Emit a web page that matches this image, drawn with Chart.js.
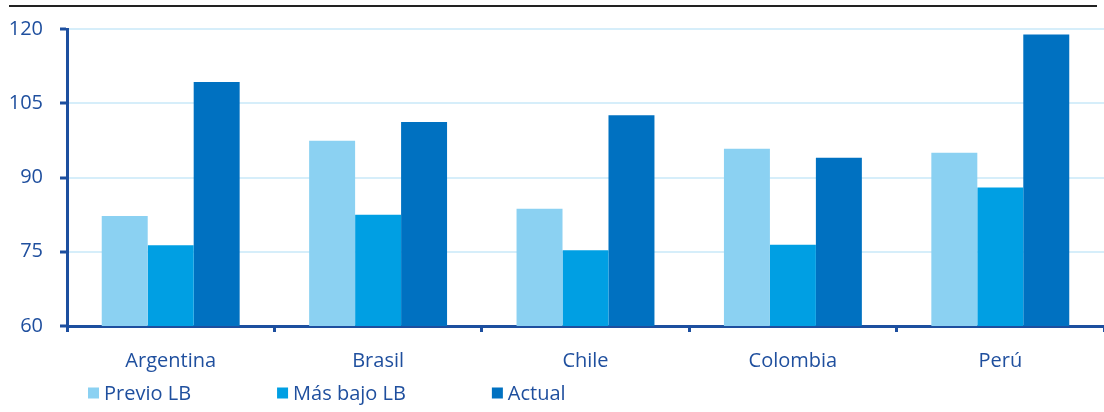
<!DOCTYPE html>
<html>
<head>
<meta charset="utf-8">
<script src="https://cdn.jsdelivr.net/npm/chart.js@4"></script>
<style>
  html, body { margin: 0; padding: 0; background: #ffffff; }
  #wrap { width: 1104px; height: 412px; position: relative; }
</style>
</head>
<body>
<div id="wrap"><canvas id="c" width="1104" height="412"></canvas></div>
<script>
const categories = ['Argentina', 'Brasil', 'Chile', 'Colombia', 'Perú'];
const seriesNames = ['Previo LB', 'Más bajo LB', 'Actual'];
const previoLB = [82.2, 97.4, 83.7, 95.8, 95.0];
const masBajoLB = [76.3, 82.5, 75.3, 76.4, 88.0];
const actual = [109.3, 101.2, 102.6, 94.0, 118.9];
const yTicks = [60, 75, 90, 105, 120];

const colors = ['#8bd1f2', '#009fe3', '#0071c1'];
const textColor = '#1f4f9e';
const axisColor = '#1d4f9f';
const fontFamily = '"Open Sans", "Noto Sans", sans-serif';

const topLine = {
  id: 'topLine',
  afterDraw(chart) {
    const ctx = chart.ctx;
    ctx.save();
    ctx.strokeStyle = '#222222';
    ctx.lineWidth = 2;
    ctx.beginPath();
    ctx.moveTo(9, 6);
    ctx.lineTo(1097, 6);
    ctx.stroke();
    ctx.restore();
  }
};

const customLegend = {
  id: 'customLegend',
  afterDraw(chart) {
    const ctx = chart.ctx;
    ctx.save();
    ctx.font = '500 20px ' + fontFamily;
    ctx.textBaseline = 'middle';
    ctx.textAlign = 'left';
    let x = 88;
    const yc = 393;
    chart.data.datasets.forEach(ds => {
      ctx.fillStyle = ds.backgroundColor;
      ctx.fillRect(x, yc - 5.5, 11, 11);
      ctx.fillStyle = textColor;
      ctx.fillText(ds.label, x + 16, yc + 1);
      x += 16 + ctx.measureText(ds.label).width + 86;
    });
    ctx.restore();
  }
};

new Chart(document.getElementById('c'), {
  type: 'bar',
  data: {
    labels: categories,
    datasets: [
      { label: seriesNames[0], data: previoLB, backgroundColor: colors[0] },
      { label: seriesNames[1], data: masBajoLB, backgroundColor: colors[1] },
      { label: seriesNames[2], data: actual, backgroundColor: colors[2] }
    ]
  },
  options: {
    responsive: false,
    animation: false,
    events: [],
    datasets: { bar: { categoryPercentage: 0.665, barPercentage: 1.0 } },
    layout: { padding: { top: 29, right: 0, bottom: 0, left: 0 } },
    plugins: { legend: { display: false }, tooltip: { enabled: false } },
    scales: {
      x: {
        grid: {
          offset: true,
          drawOnChartArea: false,
          drawTicks: true,
          tickLength: 6,
          tickWidth: 3,
          tickColor: axisColor
        },
        border: { display: true, color: axisColor, width: 3 },
        ticks: {
          color: textColor,
          font: { family: fontFamily, size: 20, weight: '500' },
          padding: 17,
          maxRotation: 0
        },
        afterFit(scale) { scale.height = 86; }
      },
      y: {
        min: 60,
        max: 120,
        afterBuildTicks(scale) { scale.ticks = yTicks.map(v => ({ value: v })); },
        grid: {
          color: '#d6eefa',
          lineWidth: 2,
          drawTicks: true,
          tickLength: 7,
          tickWidth: 3,
          tickColor: axisColor
        },
        border: { display: true, color: axisColor, width: 3 },
        ticks: {
          color: textColor,
          font: { family: fontFamily, size: 20, weight: '500' },
          padding: 17
        },
        afterFit(scale) { scale.width = 67; }
      }
    }
  },
  plugins: [topLine, customLegend]
});
</script>
</body>
</html>
